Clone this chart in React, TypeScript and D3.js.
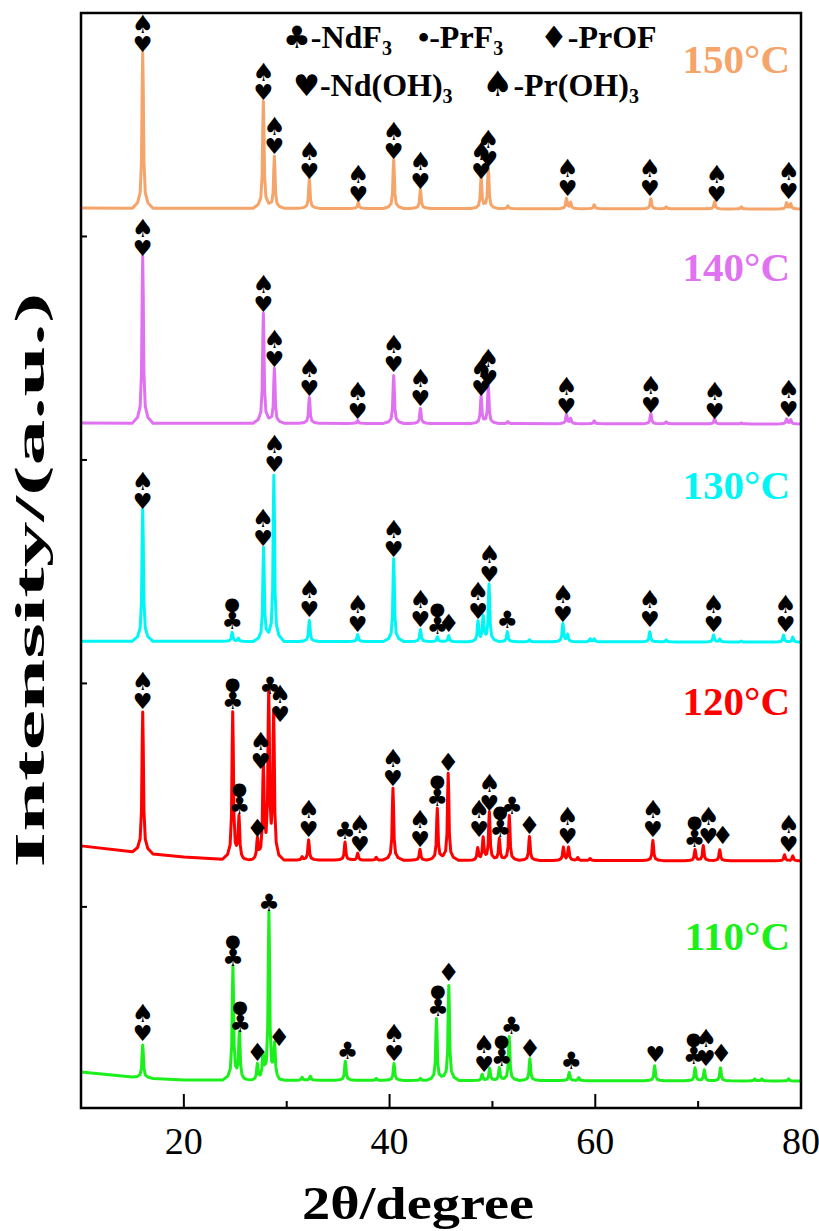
import React from 'react';
import * as d3 from 'd3';

// ---------- data ----------
const X_DOMAIN: [number, number] = [10, 80];
const Y_DOMAIN: [number, number] = [100, 5000];
const X_TICKS_MAJOR = [20, 40, 60, 80];
const X_TICKS_MINOR = [30, 50, 70];
const Y_TICKS = [1000, 2000, 3000, 4000];

const sampleNames = ['150°C', '140°C', '130°C', '120°C', '110°C'];
const sampleColors = ['#F5A46A', '#E072F2', '#00F5F5', '#FF0000', '#1CF01C'];
const sampleOffsets = [4123, 3161, 2185, 1210, 225];

// baseline drift [2θ, a.u.] relative to offset
const drift150 = [[10, 4], [80, 0]];
const drift140 = [[10, 4], [80, 0]];
const drift130 = [[10, 4], [80, 0]];
const drift120 = [[10, 63], [16, 31], [20, 13], [25, 0], [80, -4]];
const drift110 = [[10, 36], [16, 9], [20, 0], [80, -4]];

// peaks [2θ, height a.u.]
const peaks150 = [[16.0, 698], [27.73, 479], [28.8, 233], [32.2, 130], [36.96, 27], [40.4, 219], [43.0, 85], [48.9, 139], [49.6, 183], [51.5, 13], [57.2, 45], [57.6, 27], [59.9, 18], [65.4, 45], [66.9, 9], [71.6, 32], [74.2, 9], [78.6, 27], [79.0, 22]];
const peaks140 = [[16.0, 747], [27.73, 492], [28.8, 246], [32.2, 116], [36.9, 13], [40.4, 215], [43.0, 67], [48.9, 121], [49.6, 166], [51.5, 9], [57.2, 40], [57.6, 22], [59.9, 13], [65.4, 45], [66.9, 9], [71.6, 22], [74.2, 4], [78.6, 22], [79.0, 18]];
const peaks130 = [[16.0, 591], [24.7, 40], [25.3, 13], [27.75, 421], [28.75, 743], [32.2, 94], [36.9, 31], [40.4, 371], [43.0, 54], [44.65, 22], [45.75, 27], [48.6, 90], [49.1, 107], [49.67, 255], [51.45, 45], [53.6, 9], [56.85, 81], [57.3, 31], [59.5, 13], [59.9, 13], [65.3, 45], [66.9, 9], [71.5, 31], [72.1, 13], [74.2, 4], [78.3, 31], [79.2, 22]];
const peaks120 = [[16.0, 631], [24.75, 658], [25.36, 183], [27.15, 90], [27.73, 412], [28.25, 734], [28.73, 644], [31.5, 13], [32.13, 90], [35.67, 81], [36.9, 31], [38.7, 13], [40.33, 322], [42.96, 49], [44.64, 233], [45.7, 389], [48.57, 54], [49.1, 98], [49.7, 215], [50.67, 98], [51.64, 201], [53.6, 107], [56.9, 58], [57.4, 58], [58.3, 13], [59.5, 9], [65.6, 90], [69.7, 49], [70.5, 67], [72.1, 49], [78.4, 27], [79.2, 22]];
const peaks110 = [[16.0, 148], [24.77, 506], [25.4, 206], [27.15, 72], [27.7, 103], [28.27, 747], [28.82, 148], [31.5, 13], [32.3, 18], [35.7, 85], [38.7, 9], [40.43, 76], [43.0, 9], [44.56, 277], [45.76, 425], [49.0, 27], [49.73, 54], [50.67, 58], [51.63, 197], [53.64, 98], [57.47, 36], [58.4, 13], [65.77, 67], [69.7, 58], [70.6, 49], [72.17, 58], [75.5, 9], [76.2, 9], [78.8, 9]];

// phase marks [2θ, a.u. above offset, glyphs top→bottom]
const marks150: [number, number, string][] = [[16.0, 698, '♠♥'], [27.73, 483, '♠♥'], [28.8, 242, '♠♥'], [32.2, 130, '♠♥'], [36.96, 27, '♠♥'], [40.4, 219, '♠♥'], [43.0, 85, '♠♥'], [48.9, 130, '♠♥'], [49.6, 183, '♠♥'], [57.3, 54, '♠♥'], [65.3, 54, '♠♥'], [71.8, 27, '♠♥'], [78.8, 40, '♠♥']];
const marks140: [number, number, string][] = [[16.0, 747, '♠♥'], [27.73, 497, '♠♥'], [28.8, 251, '♠♥'], [32.2, 121, '♠♥'], [36.9, 18, '♠♥'], [40.4, 228, '♠♥'], [43.0, 76, '♠♥'], [48.9, 121, '♠♥'], [49.6, 166, '♠♥'], [57.2, 40, '♠♥'], [65.4, 45, '♠♥'], [71.6, 18, '♠♥'], [78.8, 27, '♠♥']];
const marks130: [number, number, string][] = [[16.0, 591, '♠♥'], [24.7, 54, '●♣'], [27.7, 425, '♠♥'], [28.8, 756, '♠♥'], [32.2, 107, '♠♥'], [36.9, 40, '♠♥'], [40.4, 376, '♠♥'], [43.0, 63, '♠♥'], [44.65, 31, '●♣'], [45.75, 40, '♦'], [48.6, 98, '♠♥'], [49.7, 264, '♠♥'], [51.45, 58, '♣'], [56.85, 85, '♠♥'], [65.3, 63, '♠♥'], [71.5, 40, '♠♥'], [78.5, 40, '♠♥']];
const marks120: [number, number, string][] = [[16.0, 671, '♠♥'], [24.75, 671, '●♣'], [25.4, 201, '●♣'], [27.15, 98, '♦'], [27.47, 403, '♠♥'], [28.37, 738, '♣'], [29.35, 613, '♠♥'], [32.13, 98, '♠♥'], [35.67, 90, '♣'], [37.1, 31, '♠♥'], [40.33, 327, '♠♥'], [42.96, 54, '♠♥'], [44.64, 237, '●♣'], [45.7, 394, '♦'], [48.7, 98, '♠♥'], [49.7, 215, '♠♥'], [50.75, 98, '●♣'], [51.9, 201, '♣'], [53.6, 112, '♦'], [57.3, 67, '♠♥'], [65.6, 98, '♠♥'], [69.65, 54, '●♣'], [71.0, 67, '♠♥'], [72.4, 67, '♦'], [78.8, 31, '♠♥']];
const marks110: [number, number, string][] = [[16.0, 170, '♠♥'], [24.77, 506, '●♣'], [25.48, 210, '●♣'], [27.15, 81, '♦'], [28.27, 752, '♣'], [29.27, 148, '♦'], [35.9, 90, '♣'], [40.43, 81, '♠♥'], [44.7, 282, '●♣'], [45.76, 439, '♦'], [49.18, 31, '♠♥'], [50.9, 58, '●♣'], [51.85, 201, '♣'], [53.64, 98, '♦'], [57.66, 45, '♣'], [65.85, 76, '♥'], [69.57, 67, '●♣'], [70.75, 58, '♠♥'], [72.25, 76, '♦']];

const legendRow1 = [['♣', '-NdF', '3'], ['•', '-PrF', '3'], ['♦', '-PrOF', '']];
const legendRow2 = [['♥', '-Nd(OH)', '3'], ['♠', '-Pr(OH)', '3']];
const xTitle = '2θ/degree';
const yTitle = 'Intensity/(a.u.)';

// ---------- style / layout ----------
const W = 819, H = 1231;
const M = { left: 81, right: 801, top: 13, bottom: 1108 };
const LABEL_Y = [73, 281, 499, 715, 950];
const LEGEND_X1 = [283, 418, 540];
const LEGEND_X2 = [293, 482];
const SERIF = '"Liberation Serif", "Times New Roman", serif';
const SYM = '"DejaVu Sans", sans-serif';
const GLYPH_SIZE: Record<string, number> = { '♠': 25, '♥': 22, '♣': 24, '♦': 25, '●': 18 };
const GLYPH_STEP: Record<string, number> = { '♠': 19, '♥': 19, '♣': 19, '♦': 17, '●': 15 };
const LEGEND_SYM_SIZE: Record<string, number> = { '♣': 31, '♦': 31, '♥': 30, '♠': 35 };
// peak profile (Δ2θ, fraction of height)
const KERNEL = [[-1.0, 0], [-0.5, 0.035], [-0.25, 0.1], [-0.12, 0.3], [-0.05, 0.78], [0, 1], [0.05, 0.78], [0.12, 0.3], [0.25, 0.1], [0.5, 0.035], [1.0, 0]];

function interp(pts: number[][], v: number) {
  if (v <= pts[0][0]) return pts[0][1];
  for (let i = 1; i < pts.length; i++) {
    if (v <= pts[i][0]) {
      const [x0, y0] = pts[i - 1];
      const [x1, y1] = pts[i];
      return y0 + ((v - x0) / (x1 - x0)) * (y1 - y0);
    }
  }
  return pts[pts.length - 1][1];
}

const series = [
  { drift: drift150, peaks: peaks150, marks: marks150 },
  { drift: drift140, peaks: peaks140, marks: marks140 },
  { drift: drift130, peaks: peaks130, marks: marks130 },
  { drift: drift120, peaks: peaks120, marks: marks120 },
  { drift: drift110, peaks: peaks110, marks: marks110 },
].map((s, i) => ({ ...s, name: sampleNames[i], color: sampleColors[i], offset: sampleOffsets[i] }));

export default function App() {
  const x = d3.scaleLinear().domain(X_DOMAIN).range([M.left, M.right]);
  const y = d3.scaleLinear().domain(Y_DOMAIN).range([M.bottom, M.top]);
  const line = d3.line<number[]>().x(d => x(d[0])).y(d => y(d[1]));

  const buildPath = (s: typeof series[number]) => {
    const xs = new Set<number>();
    s.drift.forEach(d => xs.add(d[0]));
    s.peaks.forEach(p => KERNEL.forEach(k => xs.add(+(p[0] + k[0]).toFixed(4))));
    const sorted = [...xs].filter(v => v >= X_DOMAIN[0] && v <= X_DOMAIN[1]).sort((a, b) => a - b);
    const pts = sorted.map(v => {
      let val = s.offset + interp(s.drift, v);
      s.peaks.forEach(p => {
        const dx = v - p[0];
        if (dx > KERNEL[0][0] && dx < KERNEL[KERNEL.length - 1][0]) val += p[1] * interp(KERNEL, dx);
      });
      return [v, val];
    });
    return line(pts) || '';
  };

  const stack = (glyphs: string[], yb: number) => {
    const ys: number[] = new Array(glyphs.length);
    let cur = yb;
    for (let k = glyphs.length - 1; k >= 0; k--) {
      ys[k] = cur;
      cur -= GLYPH_STEP[glyphs[k]];
    }
    return ys;
  };

  return (
    <svg width={W} height={H} style={{ position: 'absolute', left: 0, top: 0, background: '#fff' }}>
      <rect x={0} y={0} width={W} height={H} fill="#fff" />
      {series.map((s, i) => (
        <path key={'p' + i} d={buildPath(s)} fill="none" stroke={s.color} strokeWidth={3} strokeLinejoin="round" />
      ))}
      {/* phase marks */}
      {series.map((s, i) => (
        <g key={'m' + i} fontFamily={SYM} fill="#000" textAnchor="middle">
          {s.marks.map((m, j) => {
            const glyphs = Array.from(m[2]);
            const ys = stack(glyphs, y(s.offset + m[1]) - 1);
            return glyphs.map((g, k) => (
              <text key={j + '-' + k} x={x(m[0])} y={ys[k]} fontSize={GLYPH_SIZE[g]}>{g}</text>
            ));
          })}
        </g>
      ))}
      {/* labels */}
      {series.map((s, i) => (
        <text key={'l' + i} x={790} y={LABEL_Y[i]} textAnchor="end" fontFamily={SERIF} fontWeight="bold" fontSize={41} fill={s.color}>{s.name}</text>
      ))}
      {/* legend */}
      <g fontFamily={SERIF} fontWeight="bold" fontSize={32} fill="#000">
        {legendRow1.map((l, i) => (
          <text key={'a' + i} x={LEGEND_X1[i]} y={48}>
            <tspan fontFamily={l[0] === '•' ? SERIF : SYM} fontSize={l[0] === '•' ? 32 : LEGEND_SYM_SIZE[l[0]]}>{l[0]}</tspan>{l[1]}<tspan fontSize={20} dy={7}>{l[2]}</tspan>
          </text>
        ))}
        {legendRow2.map((l, i) => (
          <text key={'b' + i} x={LEGEND_X2[i]} y={96}>
            <tspan fontFamily={SYM} fontSize={LEGEND_SYM_SIZE[l[0]]}>{l[0]}</tspan>{l[1]}<tspan fontSize={20} dy={7}>{l[2]}</tspan>
          </text>
        ))}
      </g>
      {/* axes frame */}
      <rect x={M.left} y={M.top} width={M.right - M.left} height={M.bottom - M.top} fill="none" stroke="#000" strokeWidth={2.5} />
      {X_TICKS_MAJOR.map(t => (
        <line key={'xt' + t} x1={x(t)} x2={x(t)} y1={M.bottom} y2={M.bottom - 14} stroke="#000" strokeWidth={2} />
      ))}
      {X_TICKS_MINOR.map(t => (
        <line key={'xm' + t} x1={x(t)} x2={x(t)} y1={M.bottom} y2={M.bottom - 7} stroke="#000" strokeWidth={2} />
      ))}
      {Y_TICKS.map(t => (
        <line key={'yt' + t} x1={M.left} x2={M.left + 6} y1={y(t)} y2={y(t)} stroke="#000" strokeWidth={2} />
      ))}
      {X_TICKS_MAJOR.map(t => (
        <text key={'xl' + t} x={x(t)} y={1154} textAnchor="middle" fontFamily={SERIF} fontSize={38} fill="#000">{t}</text>
      ))}
      <text x={418} y={1219} textAnchor="middle" fontFamily={SERIF} fontWeight="bold" fontSize={46} fill="#000" textLength={232} lengthAdjust="spacingAndGlyphs">{xTitle}</text>
      <text transform={`translate(44, 580) rotate(-90)`} textAnchor="middle" fontFamily={SERIF} fontWeight="bold" fontSize={43} fill="#000" textLength={575} lengthAdjust="spacingAndGlyphs">{yTitle}</text>
    </svg>
  );
}
